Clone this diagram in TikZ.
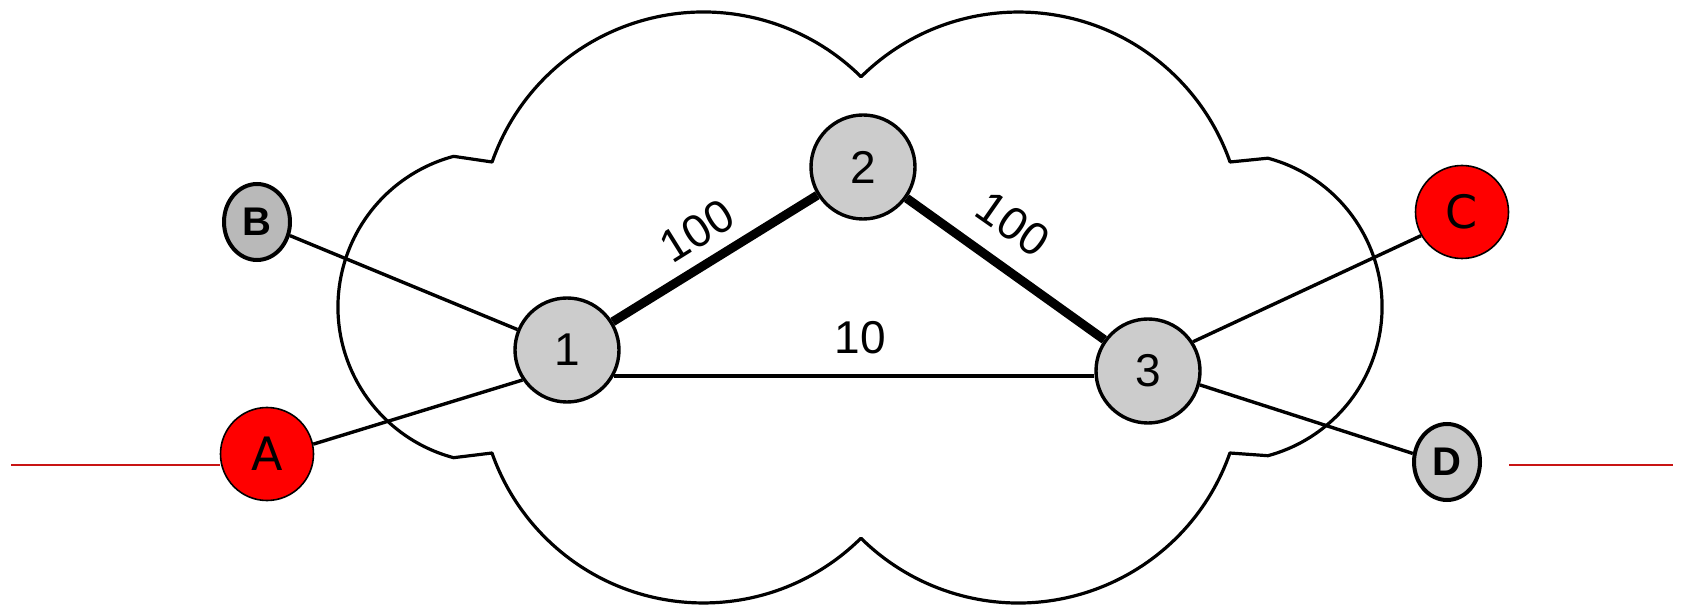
\documentclass[tikz,border=0pt]{standalone}
\usepackage{fontspec}
\setmainfont{Liberation Sans}
\newfontfamily\dejavu{DejaVu Sans}
\usetikzlibrary{shapes.geometric}
\definecolor{linkred}{RGB}{200,20,20}
\tikzset{
  cloudline/.style={line width=3.2pt, line join=round},
  router/.style={circle, draw=black, line width=3.4pt, fill=gray!40, minimum size=104pt, inner sep=0pt,
    font=\fontsize{46}{46}\selectfont},
  hostgray/.style={ellipse, draw=black, line width=4pt, minimum width=66pt, minimum height=76pt, inner sep=0pt,
    font=\bfseries\fontsize{40}{40}\selectfont},
  hostred/.style={circle, draw=black, line width=1.6pt, fill=red, minimum size=93pt, inner sep=0pt,
    font=\dejavu\fontsize{46}{46}\selectfont},
  thinlink/.style={line width=3.4pt},
  midlink/.style={line width=4.5pt},
  heavylink/.style={line width=9pt},
  redlink/.style={draw=linkred, line width=2pt},
  weight/.style={inner sep=0pt, font=\fontsize{46}{46}\selectfont}
}
\begin{document}
\begin{tikzpicture}[x=1pt, y=-1pt]
\useasboundingbox (0,0) rectangle (1681,609);
\fill[white] (0,0) rectangle (1681,609);

% cloud
\draw[cloudline] (492.1,162) arc[start angle=160.7, end angle=45.3, radius=224pt]
  arc[start angle=134.7, end angle=19.3, radius=224pt]
  -- (1267.9,158.2) arc[start angle=75, end angle=-75, radius=154pt]
  -- (1229.9,453) arc[start angle=-19.3, end angle=-134.7, radius=224pt]
  arc[start angle=-45.3, end angle=-160.7, radius=224pt]
  -- (453.6,457.7) arc[start angle=255, end angle=105, radius=156pt]
  -- cycle;

% nodes
\node[router] (n1) at (567,350) {1};
\node[router] (n2) at (863,167) {2};
\node[router] (n3) at (1148,371) {3};
\node[hostgray, fill=gray!55] (B) at (257,222) {B};
\node[hostgray, fill=gray!42] (D) at (1447,462) {D};
\node[hostred] (A) at (267,454) {A};
\node[hostred] (C) at (1462,212) {C};

% links
\draw[heavylink] (n1) -- (n2);
\draw[heavylink] (n2) -- (n3);
\draw[midlink] (n1.-29) -- (n1.-29 -| n3.west);
\draw[thinlink] (B) -- (n1);
\draw[thinlink] (A.12) -- (n1.214);
\draw[thinlink] (n3.33) -- (C.210);
\draw[thinlink] (n3.-15) -- (D.166);

% red stubs
\coordinate (L0) at (11,465);
\coordinate (R0) at (1509,465);
\coordinate (R1) at (1673,465);
\draw[redlink] (L0) -- (L0 -| A.west);
\draw[redlink] (R0) -- (R1);

% weights
\node[weight, rotate=32] (w12) at (697,231) {100};
\node[weight, rotate=-35] (w23) at (1013,224) {100};
\node[weight] (w13) at (860,338) {10};
\end{tikzpicture}
\end{document}
